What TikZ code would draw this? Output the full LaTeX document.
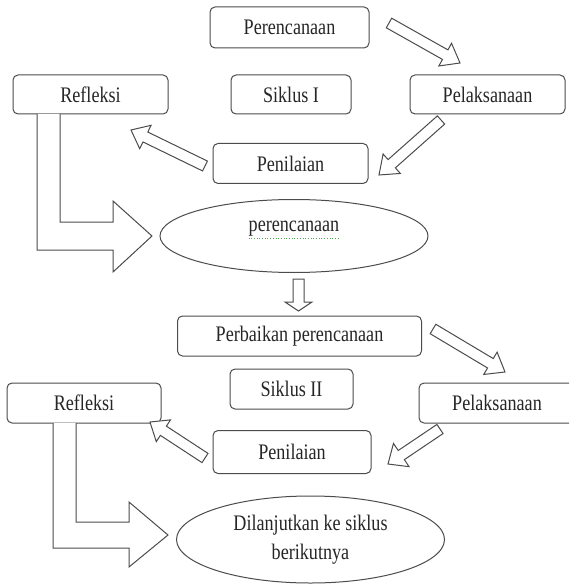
\documentclass[tikz,border=0pt]{standalone}
\usepackage{fontspec}
\usepackage{graphicx}
\setmainfont{Liberation Serif}
\usetikzlibrary{calc,shapes.geometric}
\newcommand{\tx}[1]{\scalebox{0.98}[1.2]{#1}}
\tikzset{
  outl/.style={draw=black!70, line width=1pt},
  stepbox/.style={outl, rounded corners=5pt, inner sep=0pt, fill=white,
    font=\fontsize{18.5}{22}\selectfont, text=black!85},
  ovalbox/.style={outl, ellipse, inner sep=0pt, fill=white,
    font=\fontsize{18.5}{29}\selectfont, text=black!85, align=center},
  barrow/.style={outl, fill=white, line join=miter},
}
\newcommand{\blockarrow}[5]{% tail, tip, half shaft, half head, head length
  \coordinate (ba-c) at ($(#2)!#5!(#1)$);
  \draw[barrow] ($(#1)!#3!90:(#2)$) -- ($(ba-c)!#3!90:(#2)$) -- ($(ba-c)!#4!90:(#2)$)
    -- (#2) -- ($(ba-c)!#4!-90:(#2)$) -- ($(ba-c)!#3!-90:(#2)$) -- ($(#1)!#3!-90:(#2)$) -- cycle;
}
\begin{document}
\begin{tikzpicture}[x=1pt,y=-1pt]
\useasboundingbox (0,0) rectangle (569,585);
\fill[white] (0,0) rectangle (569,585);
\clip (0,0) rectangle (569,585);

% ---------- Siklus I ----------
\node[stepbox, minimum width=159pt, minimum height=41pt] (per1) at (289.5,27.5) {\tx{Perencanaan}};
\node[stepbox, minimum width=155pt, minimum height=39pt] (ref1) at (90.5,94.5) {\tx{Refleksi}};
\node[stepbox, minimum width=120pt, minimum height=39pt] (sik1) at (291,94.5) {\tx{Siklus I}};
\node[stepbox, minimum width=155pt, minimum height=39pt] (pel1) at (487.5,94.5) {\tx{Pelaksanaan}};
\node[stepbox, minimum width=155pt, minimum height=40pt] (pen1) at (290.5,163.5) {\tx{Penilaian}};
\node[ovalbox, minimum width=268pt, minimum height=73pt] (ell1) at (294,236) {};
\node[font=\fontsize{18.5}{22}\selectfont, text=black!85, inner sep=0pt] (ell1t) at (294,229) {\tx{perencanaan}};
\draw[green!55!black!70, line width=0.7pt, dotted] ($(ell1t.south west)+(0,2)$) -- ($(ell1t.south east)+(0,2)$);

\coordinate (a1t) at (389,23);  \coordinate (a1h) at (460,63);
\coordinate (a2t) at (441,120); \coordinate (a2h) at (379,175);
\coordinate (a3t) at (205,166); \coordinate (a3h) at (131,130);
\blockarrow{a1t}{a1h}{5.5pt}{13pt}{17pt}
\blockarrow{a2t}{a2h}{5.5pt}{13pt}{17pt}
\blockarrow{a3t}{a3h}{5.5pt}{13pt}{16pt}

% L arrow 1
\draw[barrow] (60,114) -- (60,222) -- (113,222) -- (113,201) -- (152,236)
  -- (113,272) -- (113,250) -- (37,250) -- (37,114);

% down arrow
\coordinate (dt) at (298.5,279); \coordinate (dh) at (298.5,311);
\blockarrow{dt}{dh}{5.5pt}{13.5pt}{9pt}

% ---------- Siklus II ----------
\node[stepbox, minimum width=244pt, minimum height=40pt] (per2) at (299.5,336) {\tx{Perbaikan perencanaan}};
\node[stepbox, minimum width=123pt, minimum height=40pt] (sik2) at (291.5,389) {\tx{Siklus II}};
\node[stepbox, minimum width=154pt, minimum height=40pt] (ref2) at (84,403) {\tx{Refleksi}};
\node[stepbox, minimum width=156pt, minimum height=40pt] (pel2) at (497,403) {\tx{Pelaksanaan}};
\node[stepbox, minimum width=158pt, minimum height=43pt] (pen2) at (292,452) {\tx{Penilaian}};
\node[ovalbox, minimum width=268pt, minimum height=87pt] (ell2) at (310.5,539.5)
  {\tx{Dilanjutkan ke siklus}\\\tx{berikutnya}};

\coordinate (b1t) at (433,329); \coordinate (b1h) at (505,372);
\coordinate (b2t) at (440,429); \coordinate (b2h) at (388,464);
\coordinate (b3t) at (205,458); \coordinate (b3h) at (150,422);
\blockarrow{b1t}{b1h}{5.5pt}{13pt}{17pt}
\blockarrow{b2t}{b2h}{5.5pt}{14pt}{16pt}
\blockarrow{b3t}{b3h}{5.5pt}{13pt}{16pt}

% L arrow 2
\draw[barrow] (76,423) -- (76,522) -- (129,522) -- (129,502) -- (168,535)
  -- (129,567) -- (129,548) -- (53,548) -- (53,423);
\end{tikzpicture}
\end{document}
